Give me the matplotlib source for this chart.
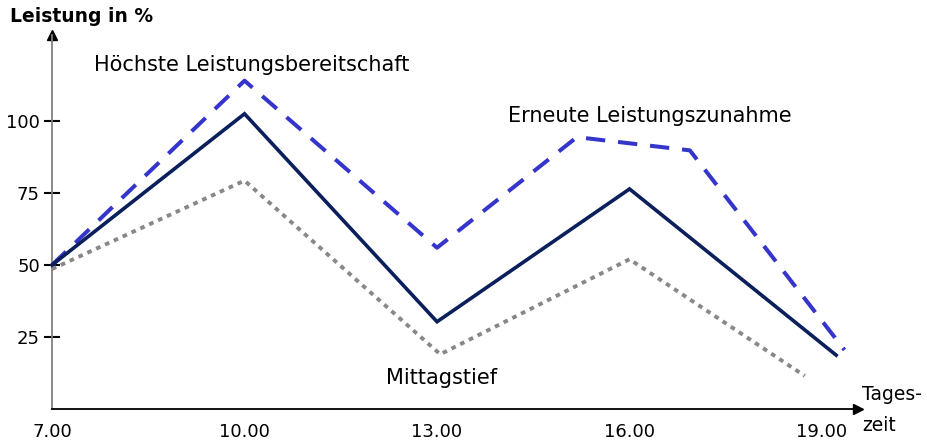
import matplotlib.pyplot as plt

# Tageszeit (Stunden) und Leistung in %
solid_x = [7, 10, 13, 16, 19.22]
solid_y = [50, 102.5, 30.3, 76.4, 18.7]

dashed_x = [7, 10, 13, 15.18, 16.94, 19.35]
dashed_y = [50, 114, 56, 94.4, 89.8, 20.5]

dotted_x = [7, 10, 13.05, 16, 18.73]
dotted_y = [48.6, 79.3, 19, 52, 11.5]

x_ticks = [7, 10, 13, 16, 19]
x_labels = ["7.00", "10.00", "13.00", "16.00", "19.00"]
y_ticks = [25, 50, 75, 100]

W, H = 927, 441
fig = plt.figure(figsize=(W / 100, H / 100), dpi=100)
plt.rcParams['font.family'] = ['DejaVu Sans']

# axes box in pixels: left spine at x=52, bottom at y=409, arrows at 858 / 35
left, right, top, bottom = 52, 858, 35, 409
ax = fig.add_axes([left / W, (H - bottom) / H, (right - left) / W, (bottom - top) / H])
px_per_h = 64.17
px_per_pct = 2.88
ax.set_xlim(7, 7 + (right - left) / px_per_h)
ax.set_ylim(0, (bottom - top) / px_per_pct)

ax.plot(dashed_x, dashed_y, color="#3535cc", lw=2.9, dashes=(4.8, 3.2),
        dash_capstyle="butt", solid_joinstyle="miter", clip_on=False, zorder=3)
ax.plot(dotted_x, dotted_y, color="#888888", lw=2.8, dashes=(1.2, 1.3),
        dash_capstyle="butt", clip_on=False, zorder=2)
ax.plot(solid_x, solid_y, color="#0a1f5c", lw=2.6, solid_joinstyle="miter",
        clip_on=False, zorder=4)

for s in ["top", "right"]:
    ax.spines[s].set_visible(False)
ax.spines["left"].set_color("#808080")
ax.spines["left"].set_linewidth(1.3)
ax.spines["bottom"].set_color("black")
ax.spines["bottom"].set_linewidth(1.3)

# arrow heads
ax.plot(0, 1, marker="^", color="black", markersize=7, transform=ax.transAxes,
        clip_on=False)
ax.plot(1, 0, marker=">", color="black", markersize=7, transform=ax.transAxes,
        clip_on=False)

ax.set_yticks(y_ticks)
ax.set_yticklabels([str(v) for v in y_ticks])
ax.tick_params(axis="y", direction="inout", length=11.5, width=1.5,
               labelsize=13, pad=3, color="black")

ax.set_xticks(x_ticks)
ax.set_xticklabels(x_labels)
ax.tick_params(axis="x", which="major", length=0, labelsize=13, pad=10)
ax.set_xticks([19], minor=True)
ax.tick_params(axis="x", which="minor", direction="inout", length=14,
               width=1.5, color="black")

ax.text(7.65, 119.4, "Höchste Leistungsbereitschaft", fontsize=15,
        va="center", ha="left")
ax.text(14.11, 101.7, "Erneute Leistungszunahme", fontsize=15,
        va="center", ha="left")
ax.text(12.2, 10.8, "Mittagstief", fontsize=15, va="center", ha="left")
ax.text(19.62, 4.9, "Tages-", fontsize=13.5, va="center", ha="left",
        clip_on=False)
ax.text(19.62, -5.6, "zeit", fontsize=13.5, va="center", ha="left",
        clip_on=False)

fig.text(10 / W, 1 - 17 / H, "Leistung in %", fontsize=13.5, fontweight="bold",
         va="center", ha="left")

fig.savefig("out.png", dpi=100)
